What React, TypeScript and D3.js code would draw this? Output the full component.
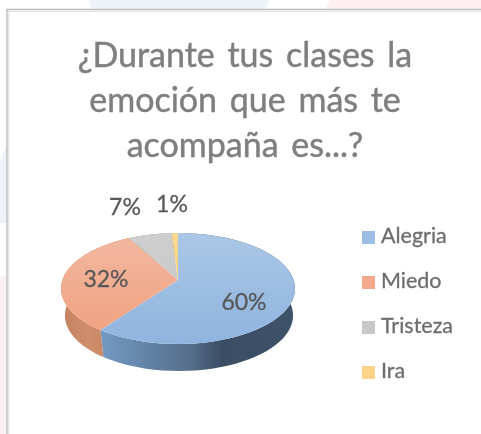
import React from "react";
import * as d3 from "d3";

const categories = ["Alegria", "Miedo", "Tristeza", "Ira"];
const values = [60, 32, 7, 1];
const valueLabels = ["60%", "32%", "7%", "1%"];
const titleLines = ["¿Durante tus clases la", "emoción que más te", "acompaña es...?"];

const topColors = [
  ["#abc7e6", "#8fb4df"],
  ["#f2b8a1", "#f0a07c"],
  ["#cfcfcf", "#c2c2c2"],
  ["#fdd98f", "#fcce74"],
];
const sideColors = [
  ["#7299c2", "#566f8c", "#3b4e64", "#3d5269"],
  ["#c58260", "#cd8a69", "#d18e6d", "#c98663"],
  ["#999", "#999", "#999", "#999"],
  ["#c09a50", "#c09a50", "#c09a50", "#c09a50"],
];
const legendColors = ["#9cbde6", "#f4a98d", "#c9c9c9", "#fdd38a"];

const cx = 178;
const cy = 280;
const depth = 27;
// perspective of the tilted disc
const k = 0.153;
const a = 54.2;
const b = 115.6;
const lowerScale = 0.975;

function project(angle: number): [number, number] {
  const X = Math.sin(angle);
  const Y = -Math.cos(angle);
  const d = 1 - k * Y;
  return [cx + (b * X) / d, cy + (a * Y) / d];
}

export default function App() {
  const slices = d3.pie<number>().sort(null)(values);
  const line = d3.line();

  const rims = slices.map((s) =>
    d3.range(0, 61).map((i) => project(s.startAngle + ((s.endAngle - s.startAngle) * i) / 60))
  );
  const topPaths = rims.map((rim) => line([[cx, cy], ...rim]) + "Z");

  // the lower rim is a bit narrower, the top face hides whatever is behind it
  const sidePaths = rims.map((rim) => {
    const lower = rim
      .map(([x, y]) => [cx + 1 + (x - cx) * lowerScale, y + depth] as [number, number])
      .reverse();
    return line([...rim, ...lower]) + "Z";
  });

  const titleY = d3.scalePoint<number>().domain([0, 1, 2]).range([67, 157]);
  const legendY = d3.scalePoint<string>().domain(categories).range([237.5, 372.5]);
  const labelPos: [number, number][] = [
    [244, 310],
    [106, 287],
    [125, 215],
    [172, 212],
  ];

  return (
    <svg
      width={481}
      height={434}
      style={{ position: "absolute", left: 0, top: 0, background: "#fff" }}
      fontFamily="Lato, 'Open Sans', sans-serif"
    >
      <defs>
        {topColors.map((c, i) => (
          <linearGradient key={i} id={`top${i}`} gradientUnits="userSpaceOnUse" x1={0} y1={233} x2={0} y2={344}>
            <stop offset="0" stopColor={c[0]} />
            <stop offset="1" stopColor={c[1]} />
          </linearGradient>
        ))}
        {sideColors.map((c, i) => (
          <linearGradient key={i} id={`side${i}`} gradientUnits="userSpaceOnUse" x1={i === 1 ? 61 : 102} y1={0} x2={i === 1 ? 105 : 295} y2={0}>
            <stop offset="0" stopColor={c[0]} />
            <stop offset="0.45" stopColor={c[1]} />
            <stop offset="0.62" stopColor={c[2]} />
            <stop offset="1" stopColor={c[3]} />
          </linearGradient>
        ))}
        <filter id="soft" x="-5%" y="-5%" width="110%" height="110%">
          <feGaussianBlur stdDeviation="0.5" />
        </filter>
      </defs>

      {/* page background behind the card */}
      <polygon points="88,0 270,0 265,9 92,9" fill="#eef2f9" />
      <polygon points="331,0 481,0 481,9 325,9" fill="#fdeff1" />
      <polygon points="0,160 7,146 7,223 0,223" fill="#eef2f9" />
      <polygon points="0,276 7,276 7,434 0,434" fill="#fdf0f2" />

      <rect x={7} y={9.5} width={480} height={430} fill="#fff" stroke="#bdbdbd" strokeWidth={1.5} />
      <path d="M8.5 11.5H481M8.5 11V434" fill="none" stroke="#e6e6e6" strokeWidth={1.5} />

      <g filter="url(#soft)">
        <g fontSize={34} fill="#7f7f7f" stroke="#7f7f7f" strokeWidth={0.45} textAnchor="middle" wordSpacing={4}>
          {titleLines.map((t, i) => (
            <text key={t} x={245} y={titleY(i)}>
              {t}
            </text>
          ))}
        </g>

        {sidePaths.map((d, i) => (
          <path key={i} d={d} fill={`url(#side${i})`} />
        ))}
        {topPaths.map((d, i) => (
          <path key={i} d={d} fill={`url(#top${i})`} />
        ))}

        <g fontSize={23} fill="#595959" stroke="#595959" strokeWidth={0.3} textAnchor="middle">
          {valueLabels.map((t, i) => (
            <text key={t} x={labelPos[i][0]} y={labelPos[i][1]}>
              {t}
            </text>
          ))}
        </g>

        <g fontSize={21.5} fill="#6e6e6e">
          {categories.map((c, i) => (
            <g key={c}>
              <rect x={362} y={legendY(c)! - 6.5} width={13} height={13} fill={legendColors[i]} />
              <text x={381} y={legendY(c)! + 5.5} stroke="#6e6e6e" strokeWidth={0.3}>
                {c}
              </text>
            </g>
          ))}
        </g>
      </g>
    </svg>
  );
}
